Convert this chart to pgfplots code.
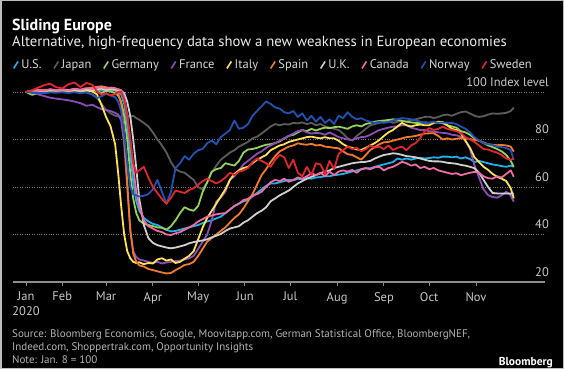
\documentclass[border=0pt]{standalone}
\usepackage{pgfplots}
\pgfplotsset{compat=1.18}
\usepackage{pgfplotstable}
\usepackage{fontspec}
\setmainfont{PT Sans}
\definecolor{cUS}{HTML}{1EB1E7}
\definecolor{cJP}{HTML}{5C5C5C}
\definecolor{cDE}{HTML}{93D35A}
\definecolor{cFR}{HTML}{8B4DB8}
\definecolor{cIT}{HTML}{FFE156}
\definecolor{cES}{HTML}{F47B25}
\definecolor{cUK}{HTML}{CFCFCF}
\definecolor{cCA}{HTML}{F06BA8}
\definecolor{cNO}{HTML}{2152B5}
\definecolor{cSE}{HTML}{E2262E}
\definecolor{axisgray}{HTML}{8C8C8C}
\definecolor{gridgray}{HTML}{7A7A7A}
\definecolor{ticktext}{HTML}{C8C8C8}
\definecolor{legtext}{HTML}{D6D6D6}
\definecolor{srctext}{HTML}{B4B4B4}
\definecolor{framegray}{HTML}{BDBDBD}

\pgfplotstableread{
d US JP DE FR IT ES UK CA NO SE
7 100 100 100 100 100 100 100 100 100 100
11 100.2 100.3 98.8 99.8 100.3 100.2 100.5 100.4 99.8 100.8
15 100.4 100.6 99.5 99.0 100.6 100.5 100.8 100.9 99.6 101.8
19 100.1 100.4 99.8 98.3 100.4 100.9 100.3 100.5 99.5 102.9
23 100.5 100.8 100.2 97.6 100.9 101.0 100.9 101.2 99.8 103.5
27 100.3 100.5 100.0 97.2 100.5 100.6 100.6 100.8 99.7 102.0
31 100.6 100.7 100.4 96.9 100.8 101.2 101.0 101.0 99.9 101.5
35 100.2 100.3 100.1 96.5 100.4 100.8 100.7 100.6 99.6 103.2
39 100.7 100.6 100.5 96.0 100.9 101.3 101.1 101.4 99.9 104.0
43 100.4 100.2 100.2 95.3 100.5 100.9 100.6 101.0 99.5 102.1
47 100.8 99.8 100.6 94.2 100.7 101.5 101.2 101.6 99.8 103.8
51 100.5 99.0 101.0 94.6 100.2 101.8 100.8 101.3 98.8 103.0
54 101.0 97.5 100.3 93.6 99.0 102.2 101.1 101.8 97.5 100.2
57 100.6 95.0 99.6 92.8 94.5 102.4 101.4 102.0 98.2 98.8
60 101.2 92.5 100.5 92.4 89.5 102.0 100.9 101.5 99.2 99.5
63 100.8 91.0 100.2 92.0 85.5 101.6 101.2 101.9 98.5 98.6
66 100.5 90.0 99.5 91.2 78.0 101.0 101.0 101.6 97.8 99.0
68 100.2 89.8 98.5 90.5 66.0 99.5 100.8 101.2 96.0 100.0
70 99.0 89.6 96.0 88.0 52.0 95.0 100.5 100.8 92.0 100.1
72 95.0 90.0 90.0 78.0 40.0 82.0 99.5 98.0 82.0 97.0
74 86.0 90.3 80.0 60.0 33.0 62.0 96.0 90.0 70.0 90.0
76 74.0 89.5 66.0 42.0 30.0 42.0 90.0 80.0 60.0 80.0
78 62.0 90.0 55.0 33.0 28.5 32.0 80.0 68.0 57.0 70.0
80 54.0 89.0 49.0 30.5 28.0 28.5 68.0 58.0 56.5 66.0
82 50.0 88.3 46.0 29.5 28.3 27.0 55.0 52.0 56.0 67.0
85 47.0 87.0 44.5 29.0 27.5 26.5 44.0 46.0 56.3 68.5
88 45.5 85.5 44.0 28.5 28.0 25.5 38.5 43.5 57.0 64.0
91 44.5 83.0 43.5 28.0 27.8 25.0 36.5 42.5 59.0 60.0
94 44.0 80.0 43.0 28.5 29.5 24.5 35.5 41.5 63.0 57.5
97 43.0 77.5 42.8 27.8 30.0 24.0 35.0 41.0 58.0 55.0
100 42.0 74.5 42.0 28.2 29.0 23.6 34.5 40.0 53.0 53.0
103 41.3 70.5 43.5 28.5 29.5 23.8 34.2 39.8 58.0 55.5
106 41.5 67.5 46.0 28.8 28.0 25.0 34.5 40.5 68.0 58.5
109 42.0 66.5 49.0 29.0 28.5 26.0 35.0 41.0 70.0 58.0
112 42.5 66.0 51.5 29.5 29.8 27.2 35.5 42.0 73.0 57.5
115 43.0 64.5 50.5 30.0 31.0 27.5 36.3 43.0 71.5 58.7
118 43.5 63.0 50.0 31.0 33.0 28.5 36.8 44.0 74.0 59.5
121 44.0 60.0 52.0 34.0 38.0 31.0 37.2 45.5 75.5 61.0
124 44.8 59.0 58.0 37.0 43.0 34.0 37.5 46.5 76.0 62.5
127 45.5 62.0 62.0 40.0 47.0 37.0 38.0 47.5 78.5 63.5
130 46.0 66.0 66.5 46.0 50.0 38.5 38.8 48.0 79.5 62.5
133 46.8 69.0 67.5 54.0 53.0 40.0 39.5 48.5 78.0 61.5
136 47.5 71.5 68.0 55.5 56.0 41.5 40.2 48.8 81.0 62.5
139 49.0 73.0 70.0 58.0 59.0 43.0 41.5 49.0 82.5 64.0
142 50.5 74.5 69.5 63.0 63.0 45.0 42.5 50.5 84.0 66.0
145 52.0 75.5 69.0 64.5 65.5 47.0 43.0 52.0 88.0 65.0
148 53.0 77.0 71.0 67.0 67.0 48.5 43.5 53.0 84.5 66.5
151 54.0 78.0 74.5 69.5 68.0 51.0 45.0 54.5 85.0 67.0
154 54.5 79.0 75.8 71.0 68.5 54.0 46.0 55.0 86.5 68.0
157 56.0 80.5 76.0 72.5 70.0 57.0 47.5 56.5 90.0 70.5
160 57.5 81.2 76.5 74.0 71.5 61.0 49.0 57.0 92.0 72.0
163 59.0 82.5 77.2 75.0 72.5 65.0 50.0 58.0 94.0 71.0
166 60.5 84.0 77.8 76.5 73.5 67.5 51.5 60.0 96.0 70.0
169 61.5 85.5 78.0 77.5 75.5 70.5 54.0 62.0 95.0 68.5
172 61.5 86.5 78.5 78.5 76.5 73.0 55.2 63.0 93.5 71.5
175 62.0 86.0 79.2 79.5 77.5 75.0 56.5 62.5 93.0 73.5
178 62.5 86.5 80.5 80.5 78.0 76.0 57.5 63.5 91.5 72.5
181 63.0 86.3 81.5 81.5 79.0 77.0 58.5 62.2 91.0 68.0
184 62.8 87.0 82.0 82.5 79.5 77.5 60.0 63.0 92.0 71.5
187 63.5 86.8 83.0 83.5 80.0 78.4 61.5 64.0 89.5 66.0
190 63.2 87.2 84.0 84.0 80.5 78.0 62.5 63.5 91.0 64.5
193 63.7 86.5 83.5 83.0 81.0 77.8 63.5 64.5 88.0 68.5
196 63.5 87.0 84.5 82.5 81.2 78.2 64.3 65.8 90.0 65.0
199 64.0 86.0 83.8 82.8 80.8 77.5 65.0 65.0 87.5 70.0
202 64.2 86.5 84.5 82.6 80.5 77.7 65.8 66.0 89.5 69.5
205 64.5 85.5 85.0 82.0 81.0 77.0 66.5 64.5 87.0 65.5
208 64.5 85.0 84.8 83.0 80.5 76.8 67.0 66.5 88.5 71.0
211 65.0 84.5 85.2 82.0 80.5 76.5 68.0 65.0 86.5 67.5
214 65.2 84.0 85.4 81.0 79.5 76.3 68.5 66.5 90.0 74.0
217 65.5 82.5 85.0 80.5 78.0 75.0 69.0 67.0 89.0 75.5
220 66.0 80.5 84.5 80.0 77.0 73.8 69.5 66.5 91.5 77.0
223 66.5 79.5 85.5 79.8 76.5 73.5 70.0 67.2 89.5 76.0
226 67.0 81.5 86.0 80.5 75.8 72.5 70.3 66.0 88.5 76.5
229 67.5 83.0 85.5 81.0 75.6 71.5 70.5 67.5 89.0 75.0
232 67.8 84.5 86.5 81.2 76.5 73.5 70.6 68.0 88.0 76.0
235 67.9 86.0 87.0 82.0 77.5 75.6 71.0 67.5 87.5 77.5
238 68.5 86.5 87.5 83.0 78.5 76.8 72.0 68.3 87.0 76.5
241 69.0 87.0 87.8 84.0 79.8 78.0 72.8 68.5 87.5 77.0
244 69.5 87.5 88.0 84.5 81.5 78.8 73.5 67.0 87.0 76.0
247 70.0 87.8 88.2 85.0 83.0 79.0 73.8 68.0 87.3 77.5
250 70.5 87.0 88.5 85.4 84.0 79.5 74.2 68.5 88.0 75.6
253 72.0 87.5 88.3 85.5 85.5 80.0 74.0 69.5 88.5 76.5
256 71.5 88.0 87.8 86.0 87.0 80.5 73.5 70.6 89.0 77.0
259 72.0 87.5 87.5 86.0 86.0 81.0 73.0 70.0 88.8 75.5
262 71.5 88.2 87.2 85.0 85.5 81.2 72.8 69.0 88.5 77.5
265 72.0 88.5 87.0 84.5 86.0 81.5 72.5 69.5 88.0 78.5
268 72.3 89.0 87.0 84.0 86.3 82.0 72.0 68.0 87.5 80.5
271 72.0 89.5 87.2 84.0 86.0 82.5 71.5 68.5 87.0 83.5
274 72.2 89.6 87.0 83.5 86.0 82.6 71.0 67.5 87.0 84.8
277 72.5 89.0 87.3 83.3 87.0 82.6 70.8 68.0 87.5 84.0
280 72.3 89.5 87.0 83.0 87.5 81.5 70.8 67.0 87.0 84.5
283 72.8 90.2 86.8 82.8 87.3 80.0 70.6 66.5 87.2 85.4
286 72.8 90.5 86.0 82.6 86.0 80.5 70.2 66.0 87.0 84.5
289 72.5 90.0 85.5 82.0 84.5 80.0 70.0 65.5 87.0 84.0
292 72.8 90.8 85.0 81.8 84.0 80.3 69.8 65.8 86.5 83.5
295 72.0 91.5 83.5 81.2 82.6 80.6 69.3 65.0 85.5 82.7
298 72.5 91.8 83.0 79.5 79.5 80.5 69.0 65.5 84.5 81.0
301 71.8 91.0 82.0 76.0 76.5 80.2 68.5 66.0 83.0 80.0
304 70.5 90.0 80.5 69.0 72.5 79.8 67.9 66.4 81.0 79.0
307 71.0 89.5 79.5 64.0 70.5 79.5 66.0 66.0 79.5 77.5
310 70.5 89.8 78.5 59.0 68.5 78.8 63.0 64.5 78.5 76.0
313 70.0 90.5 77.5 56.6 67.2 78.0 60.0 63.7 78.0 75.8
316 69.5 91.0 76.8 55.8 65.5 77.8 57.5 63.5 77.7 75.0
319 69.2 90.8 76.0 55.5 64.3 77.6 57.3 64.5 77.0 74.5
322 68.8 91.0 75.0 56.5 63.5 77.7 57.3 64.0 76.8 73.5
325 68.5 91.2 73.5 58.0 62.5 77.5 57.3 65.5 76.4 72.0
328 69.0 92.0 71.0 56.5 59.5 77.0 57.2 67.0 75.5 71.5
330 68.5 93.4 68.5 53.8 55.2 74.9 57.3 64.3 71.4 72.0
}\data

\begin{document}
\begin{tikzpicture}[x=1pt,y=1pt]
\fill[black] (0,0) rectangle (564,369);
\draw[framegray, line width=1.5pt] (0.75,0.75) rectangle (563.25,368.25);
\node[anchor=base west, inner sep=0pt, text=white, font=\bfseries\fontsize{16}{18}\selectfont] at (12,338.5) {Sliding Europe};
\node[anchor=base west, inner sep=0pt, text=white!92!black, font=\fontsize{14.7}{18}\selectfont] at (12,322.5) {Alternative, high-frequency data show a new weakness in European economies};
\begin{axis}[
  at={(12.6pt,87pt)}, anchor=south west,
  scale only axis, width=532.4pt, height=199.5pt,
  xmin=-1.9, xmax=350.7, ymin=20, ymax=104,
  axis x line*=bottom, axis y line*=right,
  x axis line style={draw=axisgray, line width=1.3pt, -},
  y axis line style={draw=none},
  xtick={7,31,60,91,121,152,182,213,244,274,305},
  xticklabels={{Jan\\2020},Feb,Mar,Apr,May,Jun,Jul,Aug,Sep,Oct,Nov},
  xticklabel style={align=center, text=ticktext, font=\fontsize{12.5}{15}\selectfont, inner sep=0pt, yshift=-6pt},
  x tick style={draw=axisgray, line width=1pt},
  tick align=outside, major tick length=4pt,
  ytick={20,40,60,80,100},
  yticklabels={20,40,60,80,{100 Index level}},
  y tick style={draw=none},
  yticklabel style={anchor=south east, text=ticktext, font=\fontsize{12.5}{15}\selectfont, inner sep=0pt, xshift=0pt, yshift=5.5pt},
  ymajorgrids, grid style={dotted, gridgray, line width=0.9pt},
  clip=false,
  every axis plot/.append style={line width=1.8pt, line join=round},
  legend columns=10,
  legend cell align=left,
  legend image code/.code={\draw[#1, line width=1.6pt] (0pt,-3.5pt) -- (4.5pt,3.5pt);},
  legend style={at={(0,1.088)}, anchor=west, draw=none, fill=none, text=legtext,
    font=\fontsize{12.5}{15}\selectfont, inner sep=0pt,
    /tikz/every odd column/.append style={column sep=0.5pt},
    /tikz/every even column/.append style={column sep=9.6pt}},
]
\addplot[cUS] table[x=d,y=US] {\data};
\addplot[cJP] table[x=d,y=JP] {\data};
\addplot[cDE] table[x=d,y=DE] {\data};
\addplot[cFR] table[x=d,y=FR] {\data};
\addplot[cIT] table[x=d,y=IT] {\data};
\addplot[cES] table[x=d,y=ES] {\data};
\addplot[cUK] table[x=d,y=UK] {\data};
\addplot[cCA] table[x=d,y=CA] {\data};
\addplot[cNO] table[x=d,y=NO] {\data};
\addplot[cSE] table[x=d,y=SE] {\data};
\legend{U.S.,Japan,Germany,France,Italy,Spain,U.K.,Canada,Norway,Sweden}
\end{axis}
\node[anchor=base west, inner sep=0pt, text=srctext, align=left, font=\fontsize{11}{12.5}\selectfont] at (12,31) {Source: Bloomberg Economics, Google, Moovitapp.com, German Statistical Office, BloombergNEF,};
\node[anchor=base west, inner sep=0pt, text=srctext, font=\fontsize{11}{12.5}\selectfont] at (12,18.5) {Indeed.com, Shoppertrak.com, Opportunity Insights};
\node[anchor=base west, inner sep=0pt, text=srctext, font=\fontsize{11}{12.5}\selectfont] at (12,6) {Note: Jan. 8 = 100};
\node[anchor=base east, inner sep=0pt, text=white, font=\bfseries\fontsize{11.5}{13}\selectfont] at (553,4) {Bloomberg};
\end{tikzpicture}
\end{document}
